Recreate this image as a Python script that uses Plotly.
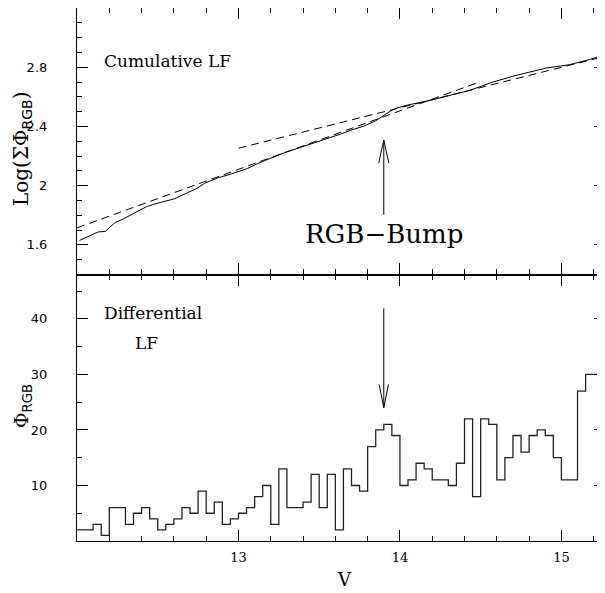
import plotly.graph_objects as go

# cumulative LF (top panel)
cum_v = [12.015, 12.083, 12.13, 12.175, 12.236, 12.288, 12.35, 12.432, 12.483, 12.544,
         12.606, 12.678, 12.74, 12.79, 12.873, 12.955, 12.996, 13.058, 13.12, 13.2,
         13.283, 13.406, 13.489, 13.571, 13.632, 13.694, 13.776, 13.848, 13.899, 13.94,
         13.981, 14.063, 14.187, 14.33, 14.433, 14.576, 14.72, 14.905, 15.049, 15.172, 15.264]
cum_log = [1.630, 1.663, 1.687, 1.691, 1.751, 1.776, 1.814, 1.859, 1.877, 1.892,
           1.912, 1.949, 1.980, 2.016, 2.053, 2.079, 2.094, 2.117, 2.150, 2.185,
           2.222, 2.267, 2.296, 2.330, 2.348, 2.374, 2.402, 2.437, 2.475, 2.503,
           2.525, 2.548, 2.576, 2.615, 2.644, 2.700, 2.745, 2.794, 2.817, 2.851, 2.884]

# linear fits (dashed)
fit_lo_v = [12.0, 14.48]
fit_lo_log = [1.715, 2.695]
fit_hi_v = [13.0, 15.27]
fit_hi_log = [2.253, 2.873]

# differential LF, 0.05 mag bins
bin_start = 12.0
bin_width = 0.05
counts = [2, 2, 3, 1, 6, 6, 3, 5, 6, 4,
          2, 3, 4, 6, 5, 9, 5, 7, 3, 4,
          5, 6, 8, 10, 3, 13, 6, 6, 7, 12,
          6, 12, 2, 13, 10, 9, 17, 20, 21, 19,
          10, 11, 14, 13, 11, 11, 10, 14, 22, 8,
          22, 21, 11, 15, 19, 16, 19, 20, 19, 15,
          11, 11, 27, 30, 30, 32]
edges = [round(bin_start + i * bin_width, 3) for i in range(len(counts) + 1)]

bump_v = 13.9

SERIF = "DejaVu Serif"
SANS = "DejaVu Sans"

# the page body has an 8px margin, so the figure is sized to fill the rest
OFF = 8
W, H = 605 - OFF, 593 - OFF
ML, MR, MT, MB = 77 - OFF, 0, 0, 52

fig = go.Figure()

fig.add_trace(go.Scatter(x=cum_v, y=cum_log, mode="lines", xaxis="x2", yaxis="y2",
                         line=dict(color="black", width=1)))
fig.add_trace(go.Scatter(x=fit_lo_v, y=fit_lo_log, mode="lines", xaxis="x2", yaxis="y2",
                         line=dict(color="black", width=1, dash="8px,5px")))
fig.add_trace(go.Scatter(x=fit_hi_v, y=fit_hi_log, mode="lines", xaxis="x2", yaxis="y2",
                         line=dict(color="black", width=1, dash="8px,5px")))

fig.add_trace(go.Scatter(x=edges, y=counts + [counts[-1]], mode="lines",
                         line=dict(color="#222", width=1.3, shape="hv")))

ax = dict(showline=True, linecolor="black", linewidth=1.2, mirror="allticks",
          ticks="inside", ticklen=11, tickwidth=1, tickcolor="black",
          showgrid=False, zeroline=False, automargin=False)

fig.update_layout(
    width=W, height=H,
    margin=dict(l=ML, r=MR, t=MT, b=MB),
    paper_bgcolor="white", plot_bgcolor="white",
    showlegend=False,
    xaxis=dict(ax, range=[12.0, 15.27], tickvals=[13, 14, 15],
               minor=dict(ticks="inside", ticklen=5, dtick=0.2, tick0=12, tickcolor="black"),
               tickfont=dict(family=SERIF, size=13, color="black"), ticklabelstandoff=4,
               anchor="y"),
    xaxis2=dict(ax, range=[12.0, 15.27], tickvals=[13, 14, 15], showticklabels=False,
                minor=dict(ticks="inside", ticklen=5, dtick=0.2, tick0=12, tickcolor="black"),
                anchor="y2", matches="x"),
    yaxis=dict(ax, domain=[0, 0.5], range=[0, 48], tickvals=[10, 20, 30, 40],
               minor=dict(ticks="inside", ticklen=5, dtick=5, tick0=0, tickcolor="black"),
               tickfont=dict(family=SANS, size=13, color="black"), ticklabelstandoff=26,
               anchor="x"),
    yaxis2=dict(ax, domain=[0.5, 1], range=[1.4, 3.2], tickvals=[1.6, 2.0, 2.4, 2.8],
                ticktext=["1.6", "2", "2.4", "2.8"],
                minor=dict(ticks="inside", ticklen=5, dtick=0.1, tick0=0, tickcolor="black"),
                tickfont=dict(family=SANS, size=13, color="black"), ticklabelstandoff=26,
                anchor="x2"),
)

# arrows marking the RGB bump
fig.add_shape(type="line", xref="x2", yref="y2", x0=bump_v, x1=bump_v, y0=1.803, y1=2.308,
              line=dict(color="black", width=1))
fig.add_shape(type="path", xref="x2", yref="y2",
              path=f"M {bump_v-0.031} 2.153 L {bump_v} 2.308 L {bump_v+0.031} 2.153",
              line=dict(color="black", width=1))
fig.add_shape(type="line", xref="x", yref="y", x0=bump_v, x1=bump_v, y0=41.9, y1=24.0,
              line=dict(color="black", width=1))
fig.add_shape(type="path", xref="x", yref="y",
              path=f"M {bump_v-0.029} 28.2 L {bump_v} 24.0 L {bump_v+0.029} 28.2",
              line=dict(color="black", width=1))

ann = [
    dict(x=bump_v, y=1.675, xref="x2", yref="y2", text="RGB\u2212Bump",
         font=dict(family=SERIF, size=26)),
    dict(x=12.155, y=2.843, xref="x2", yref="y2", text="Cumulative LF", xanchor="left",
         font=dict(family=SERIF, size=17)),
    dict(x=12.153, y=41.0, xref="x", yref="y", text="Differential", xanchor="left",
         font=dict(family=SERIF, size=17)),
    dict(x=12.349, y=35.7, xref="x", yref="y", text="LF", xanchor="left",
         font=dict(family=SERIF, size=17)),
]
# labels placed by window pixel position
px_ann = [
    dict(x=344, y=579, text="V", font=dict(family=SERIF, size=18)),
    dict(x=22, y=149, text="Log(\u03a3\u03a6<sub><span style='font-family:DejaVu Sans'>RGB</span></sub>)",
         textangle=-90, font=dict(family=SERIF, size=20)),
    dict(x=22, y=406, text="\u03a6<sub><span style='font-family:DejaVu Sans'>RGB</span></sub>",
         textangle=-90, font=dict(family=SERIF, size=19)),
]
for a in px_ann:
    a["xref"] = "paper"
    a["yref"] = "paper"
    a["xanchor"] = "center"
    a["yanchor"] = "middle"
    a["x"] = (a["x"] - OFF - ML) / (W - ML - MR)
    a["y"] = (H - MB - (a["y"] - OFF)) / (H - MT - MB)
for a in ann + px_ann:
    a["showarrow"] = False
    a["font"]["color"] = "black"
    fig.add_annotation(**a)

fig.write_html("out.html")
